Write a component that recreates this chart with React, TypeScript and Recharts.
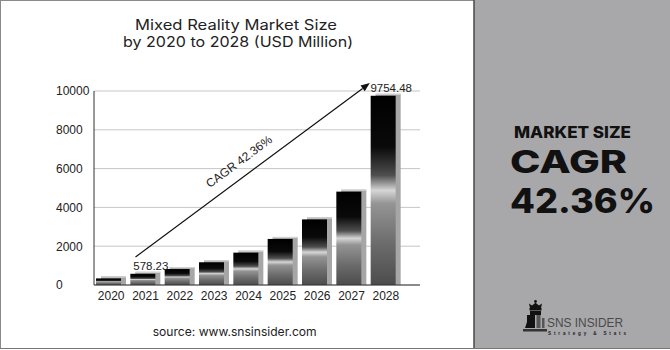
import React from 'react';
import { BarChart, Bar, XAxis, YAxis, CartesianGrid, ReferenceLine, LabelList } from 'recharts';

const years = ['2020', '2021', '2022', '2023', '2024', '2025', '2026', '2027', '2028'];
const marketSize = [340, 578.23, 823.2, 1171.9, 1668.3, 2375.0, 3381.0, 4813.2, 9754.48];
const valueLabels = ['', '578.23', '', '', '', '', '', '', '9754.48'];
const yTicks = [0, 2000, 4000, 6000, 8000, 10000];

const data = years.map((year, i) => ({ year, value: marketSize[i], label: valueLabels[i] }));

const AXIS_FONT = '"Liberation Sans", Arial, sans-serif';
const HEAD_FONT = 'Inter, "Open Sans", sans-serif';
const BOLD_FONT = 'Inter, "Open Sans", sans-serif';

const BarShape = (props: any) => {
  const { x, y, width, height } = props;
  if (!height || height <= 0) return null;
  const main = width - 5;
  return (
    <g>
      <rect x={x + 5} y={y - 2} width={main} height={height + 2} fill="#a6a6a6" />
      <rect x={x + 5} y={y - 2} width={main} height={1.2} fill="#d2d2d2" />
      <rect x={x} y={y} width={main} height={height} fill="url(#barGrad)" />
    </g>
  );
};

const ValueLabel = (props: any) => {
  const { x, y, width, value } = props;
  if (!value) return null;
  return (
    <text x={x + (width - 5) / 2 + 8} y={y - 4} textAnchor="middle" fontSize={11.5} fontFamily={AXIS_FONT} fill="#222">
      {value}
    </text>
  );
};

const XTick = (props: any) => {
  const { x, y, payload } = props;
  return (
    <text x={x} y={y} dy={15} textAnchor="middle" fontSize={12} fontFamily={AXIS_FONT} fill="#222">
      {payload.value}
    </text>
  );
};

const YTick = (props: any) => {
  const { x, y, payload } = props;
  return (
    <text x={x - 38} y={y} dy={4.3} textAnchor="start" fontSize={12} fontFamily={AXIS_FONT} fill="#222">
      {payload.value}
    </text>
  );
};

// arrow drawn from the reference segment, nudged left to sit like the original
const ArrowShape = (props: any) => {
  const x1 = props.x1 - 10;
  const y1 = props.y1;
  const x2 = props.x2 - 16;
  const y2 = props.y2;
  const dx = x2 - x1;
  const dy = y2 - y1;
  const len = Math.sqrt(dx * dx + dy * dy);
  const ux = dx / len;
  const uy = dy / len;
  const angle = (Math.atan2(dy, dx) * 180) / Math.PI;
  const hx = x2 - ux * 9;
  const hy = y2 - uy * 9;
  const head = `${x2},${y2} ${hx - uy * 3.5},${hy + ux * 3.5} ${hx + uy * 3.5},${hy - ux * 3.5}`;
  const tx = (x1 + x2) / 2 + uy * 14 - ux * 6;
  const ty = (y1 + y2) / 2 - ux * 14 - uy * 6;
  return (
    <g>
      <line x1={x1} y1={y1} x2={hx} y2={hy} stroke="#111" strokeWidth={1.2} />
      <polygon points={head} fill="#111" />
      <text
        x={tx}
        y={ty}
        textAnchor="middle"
        dominantBaseline="middle"
        fontSize={12}
        fontFamily={AXIS_FONT}
        fill="#222"
        transform={`rotate(${angle} ${tx} ${ty})`}
      >
        CAGR 42.36%
      </text>
    </g>
  );
};

const Frame = () => (
  <svg width={670} height={350} style={{ position: 'absolute', left: 0, top: 0 }}>
    <defs>
      <linearGradient id="barGrad" x1="0" y1="0" x2="0" y2="1">
        <stop offset="0" stopColor="#000" />
        <stop offset="0.27" stopColor="#0a0a0a" />
        <stop offset="0.42" stopColor="#4e4e4e" />
        <stop offset="0.5" stopColor="#d6d6d6" />
        <stop offset="0.57" stopColor="#949494" />
        <stop offset="0.78" stopColor="#6c6c6c" />
        <stop offset="1" stopColor="#4c4c4c" />
      </linearGradient>
    </defs>
    <rect x={0} y={0} width={670} height={350} fill="#fff" />
    <line x1={0} y1={0.5} x2={474} y2={0.5} stroke="#8a8a8a" />
    <line x1={0.5} y1={0} x2={0.5} y2={349} stroke="#8a8a8a" />
    <line x1={0} y1={348.5} x2={670} y2={348.5} stroke="#777" />
    <rect x={474} y={0} width={196} height={348} fill="#a8a8ab" />
    <line x1={474} y1={0} x2={474} y2={348} stroke="#4a4a4a" strokeWidth={1.5} />

    <text x={236} y={29.5} textAnchor="middle" fontSize={14.2} fontFamily={HEAD_FONT} fill="#222" textLength={202} lengthAdjust="spacingAndGlyphs">
      Mixed Reality Market Size
    </text>
    <text x={238} y={47} textAnchor="middle" fontSize={14.2} fontFamily={HEAD_FONT} fill="#222" textLength={230} lengthAdjust="spacingAndGlyphs">
      by 2020 to 2028 (USD Million)
    </text>
    <text x={234.7} y={336} textAnchor="middle" fontSize={12} fontFamily={HEAD_FONT} fill="#222" textLength={164} lengthAdjust="spacingAndGlyphs">
      source: www.snsinsider.com
    </text>

    <text x={514} y={138} fontSize={16.5} fontWeight={800} fontFamily={BOLD_FONT} fill="#111" textLength={117} lengthAdjust="spacingAndGlyphs">
      MARKET SIZE
    </text>
    <text x={510} y={172.5} fontSize={31} fontWeight={800} fontFamily={BOLD_FONT} fill="#111" textLength={117} lengthAdjust="spacingAndGlyphs">
      CAGR
    </text>
    <text x={510} y={212.5} fontSize={33.5} fontWeight={800} fontFamily={BOLD_FONT} fill="#111" textLength={145} lengthAdjust="spacingAndGlyphs">
      42.36%
    </text>

    <g>
      <circle cx={535.5} cy={301.5} r={1.4} fill="#111" />
      <polygon points="529,303.5 532,305.5 535.5,302.8 539,305.5 542,303.5 541,308 530,308" fill="#111" />
      <rect x={529.5} y={308} width={12} height={2.5} fill="#111" />
      <rect x={530} y={311} width={11} height={4} fill="#111" />
      <polygon points="527,315 535,315 535,328 525,328 527,322" fill="#111" />
      <rect x={536.5} y={315} width={4} height={13} fill="#555" />
      <rect x={542} y={318} width={2.5} height={10} fill="#555" />
      <rect x={523} y={329} width={24} height={2.5} fill="#333" />
      <text x={547} y={326.5} fontSize={13.5} fontFamily={AXIS_FONT} fill="#4a4a4a" textLength={76} lengthAdjust="spacingAndGlyphs">
        SNS INSIDER
      </text>
      <text x={548} y={334.8} fontSize={4.6} fontWeight={700} fontFamily={AXIS_FONT} fill="#222" textLength={78} lengthAdjust="spacing">
        Strategy &amp; Stats
      </text>
    </g>
  </svg>
);

export default function App() {
  return (
    <div style={{ position: 'absolute', left: 0, top: 0, width: 670, height: 350, overflow: 'hidden' }}>
      <Frame />
      <div style={{ position: 'absolute', left: 0, top: 0 }}>
        <BarChart width={470} height={310} data={data} margin={{ top: 91, right: 50, left: 0, bottom: 5 }}>
          <CartesianGrid vertical={false} stroke="#c6c6c6" />
          <XAxis
            dataKey="year"
            padding={{ left: 0, right: 17 }}
            axisLine={{ stroke: '#333' }}
            tickLine={false}
            tickSize={0}
            tickMargin={0}
            height={20}
            tick={<XTick />}
            interval={0}
          />
          <YAxis
            domain={[0, 10000]}
            ticks={yTicks}
            width={94}
            axisLine={{ stroke: '#333' }}
            tickLine={false}
            tickSize={0}
            tickMargin={0}
            tick={<YTick />}
            interval={0}
          />
          <Bar dataKey="value" barSize={30} shape={<BarShape />} isAnimationActive={false}>
            <LabelList dataKey="label" content={<ValueLabel />} />
          </Bar>
          <ReferenceLine
            segment={[
              { x: '2021', y: 1443 },
              { x: '2028', y: 10410 },
            ]}
            ifOverflow="visible"
            shape={<ArrowShape />}
          />
        </BarChart>
      </div>
    </div>
  );
}
